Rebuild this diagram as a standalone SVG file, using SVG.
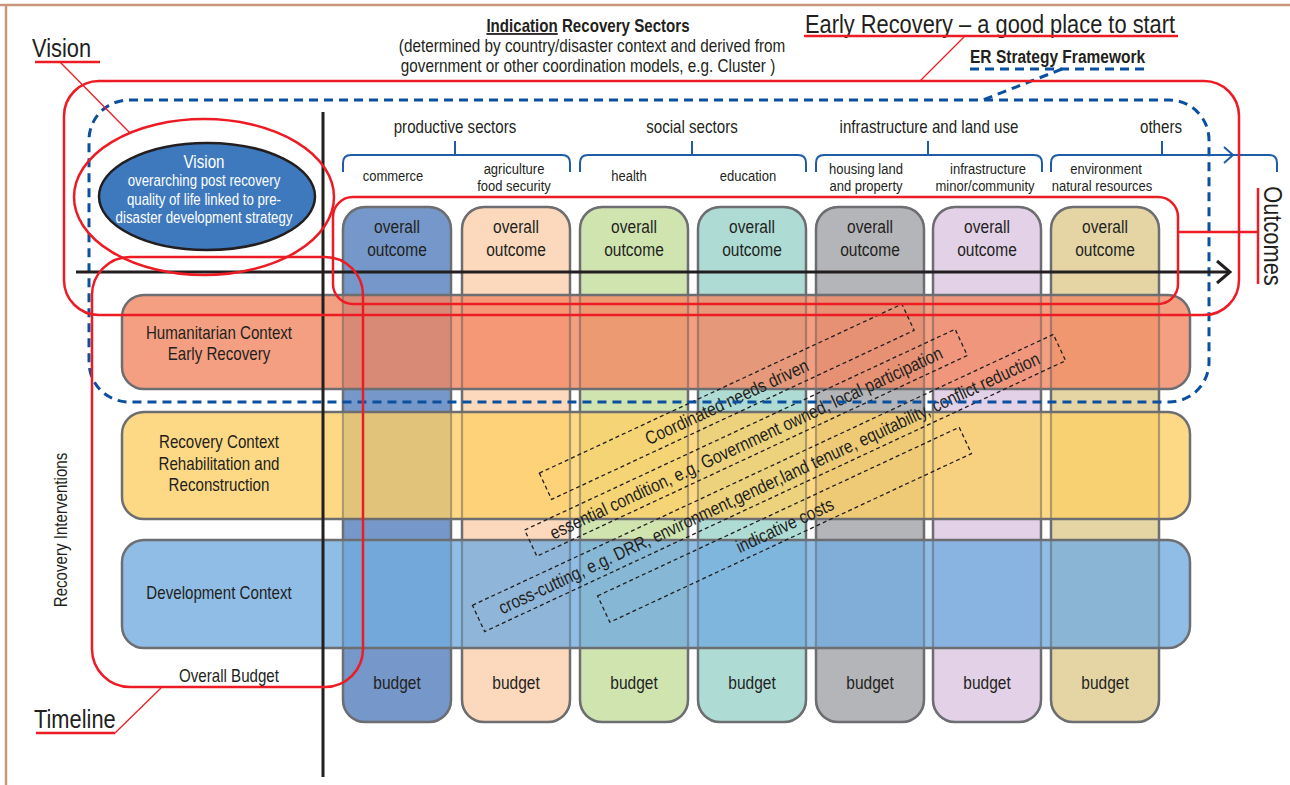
<svg xmlns="http://www.w3.org/2000/svg" width="1290" height="785" viewBox="0 0 1290 785">
<defs>
<style>
.t{font-family:"Liberation Sans",Arial,sans-serif;fill:#231f20;}
.m{text-anchor:middle;}
.b{font-weight:bold;}
.w{fill:#ffffff;}
.col{stroke:#6d6e71;stroke-width:2.5;}
.colo{fill:none;stroke:#6d6e71;stroke-width:2;stroke-opacity:0.45;}
.row{stroke:#6d6e71;stroke-width:2.5;fill-opacity:0.8;}
.red{fill:none;stroke:#ed1c24;stroke-width:2.5;}
.redt{fill:none;stroke:#ed1c24;stroke-width:1.3;}
.bd{fill:none;stroke:#0b50a0;stroke-width:3;stroke-dasharray:9 6;}
.brace{fill:none;stroke:#1f5ca8;stroke-width:2;}
.diag{fill:none;stroke:#231f20;stroke-width:1.3;stroke-dasharray:4 3;}
.ax{fill:none;stroke:#231f20;stroke-width:3;}
</style>
</defs>
<rect width="1290" height="785" fill="#ffffff"/>
<g id="border" fill="none" stroke="#c9967b" stroke-width="2.5">
<line x1="0" y1="5" x2="1290" y2="5"/>
<line x1="6" y1="5" x2="6" y2="785"/>
</g>

<g id="col-commerce">
<rect class="col" x="343" y="207" width="108" height="515" rx="22" fill="#7597c9"/>
<text class="t m" transform="translate(397 233) scale(.84 1)" font-size="18.5">overall</text>
<text class="t m" transform="translate(397 256) scale(.84 1)" font-size="18.5">outcome</text>
<text class="t m" transform="translate(397 689) scale(.84 1)" font-size="18.5">budget</text>
</g>
<g id="col-agriculture">
<rect class="col" x="462" y="207" width="108" height="515" rx="22" fill="#fcd9bd"/>
<text class="t m" transform="translate(516 233) scale(.84 1)" font-size="18.5">overall</text>
<text class="t m" transform="translate(516 256) scale(.84 1)" font-size="18.5">outcome</text>
<text class="t m" transform="translate(516 689) scale(.84 1)" font-size="18.5">budget</text>
</g>
<g id="col-health">
<rect class="col" x="580" y="207" width="108" height="515" rx="22" fill="#d0e4b0"/>
<text class="t m" transform="translate(634 233) scale(.84 1)" font-size="18.5">overall</text>
<text class="t m" transform="translate(634 256) scale(.84 1)" font-size="18.5">outcome</text>
<text class="t m" transform="translate(634 689) scale(.84 1)" font-size="18.5">budget</text>
</g>
<g id="col-education">
<rect class="col" x="698" y="207" width="108" height="515" rx="22" fill="#aedcd5"/>
<text class="t m" transform="translate(752 233) scale(.84 1)" font-size="18.5">overall</text>
<text class="t m" transform="translate(752 256) scale(.84 1)" font-size="18.5">outcome</text>
<text class="t m" transform="translate(752 689) scale(.84 1)" font-size="18.5">budget</text>
</g>
<g id="col-housing">
<rect class="col" x="816" y="207" width="108" height="515" rx="22" fill="#b4b5b8"/>
<text class="t m" transform="translate(870 233) scale(.84 1)" font-size="18.5">overall</text>
<text class="t m" transform="translate(870 256) scale(.84 1)" font-size="18.5">outcome</text>
<text class="t m" transform="translate(870 689) scale(.84 1)" font-size="18.5">budget</text>
</g>
<g id="col-infrastructure">
<rect class="col" x="933" y="207" width="108" height="515" rx="22" fill="#e2d1e7"/>
<text class="t m" transform="translate(987 233) scale(.84 1)" font-size="18.5">overall</text>
<text class="t m" transform="translate(987 256) scale(.84 1)" font-size="18.5">outcome</text>
<text class="t m" transform="translate(987 689) scale(.84 1)" font-size="18.5">budget</text>
</g>
<g id="col-environment">
<rect class="col" x="1051" y="207" width="108" height="515" rx="22" fill="#e5d5a5"/>
<text class="t m" transform="translate(1105 233) scale(.84 1)" font-size="18.5">overall</text>
<text class="t m" transform="translate(1105 256) scale(.84 1)" font-size="18.5">outcome</text>
<text class="t m" transform="translate(1105 689) scale(.84 1)" font-size="18.5">budget</text>
</g>

<g id="row-humanitarian">
<rect class="row" x="122" y="295" width="1068" height="94" rx="22" fill="#f28763"/>
<text class="t m" transform="translate(219 339) scale(.84 1)" font-size="18">Humanitarian Context</text>
<text class="t m" transform="translate(219 360) scale(.84 1)" font-size="18">Early Recovery</text>
</g>
<g id="row-recovery">
<rect class="row" x="122" y="412" width="1068" height="107" rx="22" fill="#fdd067"/>
<text class="t m" transform="translate(219 448) scale(.84 1)" font-size="18">Recovery Context</text>
<text class="t m" transform="translate(219 470) scale(.84 1)" font-size="18">Rehabilitation and</text>
<text class="t m" transform="translate(219 491) scale(.84 1)" font-size="18">Reconstruction</text>
</g>
<g id="row-development">
<rect class="row" x="122" y="540" width="1068" height="108" rx="22" fill="#73ade0"/>
<text class="t m" transform="translate(219 599) scale(.84 1)" font-size="18">Development Context</text>
</g>

<g id="col-outlines">
<rect class="colo" x="343" y="207" width="108" height="515" rx="22"/>
<rect class="colo" x="462" y="207" width="108" height="515" rx="22"/>
<rect class="colo" x="580" y="207" width="108" height="515" rx="22"/>
<rect class="colo" x="698" y="207" width="108" height="515" rx="22"/>
<rect class="colo" x="816" y="207" width="108" height="515" rx="22"/>
<rect class="colo" x="933" y="207" width="108" height="515" rx="22"/>
<rect class="colo" x="1051" y="207" width="108" height="515" rx="22"/>
</g>

<g id="diag-coordinated" transform="translate(726.75,401.75) rotate(-25)">
<rect class="diag" x="-200" y="-14.5" width="400" height="29"/>
<text class="t m" transform="translate(0 6.5) scale(.84 1)" font-size="18.5">Coordinated needs driven</text>
</g>
<g id="diag-essential" transform="translate(746,442.75) rotate(-25)">
<rect class="diag" x="-237.5" y="-14.5" width="475" height="29"/>
<text class="t m" transform="translate(0 6.5) scale(.84 1)" font-size="18.5">essential condition, e.g. Government owned, local participation</text>
</g>
<g id="diag-crosscutting" transform="translate(769,483) rotate(-25)">
<rect class="diag" x="-320.5" y="-14.5" width="641" height="29"/>
<text class="t m" transform="translate(0 6.5) scale(.84 1)" font-size="18.5">cross-cutting, e.g. DRR, environment,gender,land tenure, equitability, conflict reduction</text>
</g>
<g id="diag-costs" transform="translate(784.5,524.75) rotate(-25)">
<rect class="diag" x="-199.5" y="-14.5" width="399" height="29"/>
<text class="t m" transform="translate(0 7) scale(.84 1)" font-size="18.5">indicative costs</text>
</g>

<g id="er-framework">
<rect class="bd" x="89" y="100" width="1120" height="302" rx="40"/>
<text class="t b" transform="translate(970 63) scale(.84 1)" font-size="18.5">ER Strategy Framework</text>
</g>

<g id="sectors">
<path class="brace" d="M343 172V163Q343 155 351 155H562Q570 155 570 163V172M455 155V141"/>
<path class="brace" d="M580 172V163Q580 155 588 155H798Q806 155 806 163V172M692 155V141"/>
<path class="brace" d="M816 172V163Q816 155 824 155H1034Q1042 155 1042 163V172M928 155V141"/>
<path class="brace" d="M1051 172V163Q1051 155 1059 155H1269Q1277 155 1277 163V172M1162 155V141"/>
<polyline class="brace" points="1224,147 1233,155 1224,163"/>
<text class="t m" transform="translate(455 133) scale(.84 1)" font-size="18">productive sectors</text>
<text class="t m" transform="translate(692 133) scale(.84 1)" font-size="18">social sectors</text>
<text class="t m" transform="translate(929 133) scale(.84 1)" font-size="18">infrastructure and land use</text>
<text class="t m" transform="translate(1161 133) scale(.84 1)" font-size="18">others</text>
<text class="t m" transform="translate(393 181) scale(.84 1)" font-size="15.5">commerce</text>
<text class="t m" transform="translate(514 174) scale(.84 1)" font-size="15.5">agriculture</text>
<text class="t m" transform="translate(514 191) scale(.84 1)" font-size="15.5">food security</text>
<text class="t m" transform="translate(629 181) scale(.84 1)" font-size="15.5">health</text>
<text class="t m" transform="translate(748 181) scale(.84 1)" font-size="15.5">education</text>
<text class="t m" transform="translate(866 174) scale(.84 1)" font-size="15.5">housing land</text>
<text class="t m" transform="translate(866 191) scale(.84 1)" font-size="15.5">and property</text>
<text class="t m" transform="translate(988 174) scale(.84 1)" font-size="15.5">infrastructure</text>
<text class="t m" transform="translate(985 191) scale(.84 1)" font-size="15.5">minor/community</text>
<text class="t m" transform="translate(1106 174) scale(.84 1)" font-size="15.5">environment</text>
<text class="t m" transform="translate(1102 191) scale(.84 1)" font-size="15.5">natural resources</text>
</g>

<g id="title">
<text class="t m b" transform="translate(588 32) scale(.84 1)" font-size="18"><tspan text-decoration="underline">Indication</tspan> Recovery Sectors</text>
<text class="t m" transform="translate(592 52) scale(.84 1)" font-size="18.2">(determined by country/disaster context and derived from</text>
<text class="t m" transform="translate(588 72) scale(.84 1)" font-size="18.2">government or other coordination models, e.g. Cluster )</text>
</g>

<g id="vision">
<ellipse cx="207" cy="196.5" rx="108" ry="53.5" fill="#3e79be" stroke="#231f20" stroke-width="2.5"/>
<text class="t m w" transform="translate(204 168) scale(.84 1)" font-size="18">Vision</text>
<text class="t m w" transform="translate(204 186) scale(.84 1)" font-size="15.8">overarching post recovery</text>
<text class="t m w" transform="translate(204 205) scale(.84 1)" font-size="15.8">quality of life linked to pre-</text>
<text class="t m w" transform="translate(204 223) scale(.84 1)" font-size="15.8">disaster development strategy</text>
</g>

<g id="connectors">
<line class="ax" x1="76" y1="272" x2="1229" y2="272"/>
<polyline class="ax" points="1217,261 1230,272 1217,283"/>
<line class="ax" x1="323" y1="112" x2="323" y2="777"/>
<line class="bd" x1="970" y1="69" x2="1145" y2="69"/>
<line class="bd" x1="1062" y1="69" x2="983" y2="100"/>
<line class="redt" x1="60" y1="62" x2="130" y2="133"/>
<line class="redt" x1="964" y1="37" x2="920" y2="81"/>
<line class="redt" x1="115" y1="733" x2="161" y2="688"/>
<line class="red" x1="1178" y1="232" x2="1258" y2="232"/>
<line class="red" x1="1258" y1="188" x2="1258" y2="284"/>
</g>

<g id="er-outline">
<rect class="red" x="64" y="81" width="1175" height="234" rx="35"/>
</g>
<g id="vision-outline">
<ellipse class="red" cx="204" cy="197" rx="130" ry="78"/>
</g>
<g id="outcomes-outline">
<rect class="red" x="333" y="197" width="845" height="107" rx="20"/>
</g>
<g id="timeline-outline">
<rect class="red" x="92" y="257" width="271" height="430" rx="38"/>
<text class="t m" transform="translate(229 682) scale(.84 1)" font-size="18">Overall Budget</text>
</g>

<g id="labels">
<text class="t" transform="translate(32 57) scale(.84 1)" font-size="26">Vision</text>
<line class="red" x1="35" y1="62" x2="100" y2="62"/>
<text class="t" transform="translate(34 728) scale(.84 1)" font-size="26">Timeline</text>
<line class="red" x1="36" y1="733" x2="115" y2="733"/>
<text class="t" transform="translate(805 33) scale(.84 1)" font-size="26">Early Recovery – a good place to start</text>
<line class="red" x1="804" y1="36" x2="1178" y2="36"/>
<text class="t m" transform="translate(1264 236) rotate(90) scale(.84 1)" font-size="26">Outcomes</text>
<text class="t m" transform="translate(67 530) rotate(-90) scale(.84 1)" font-size="18">Recovery Interventions</text>
</g>
</svg>
